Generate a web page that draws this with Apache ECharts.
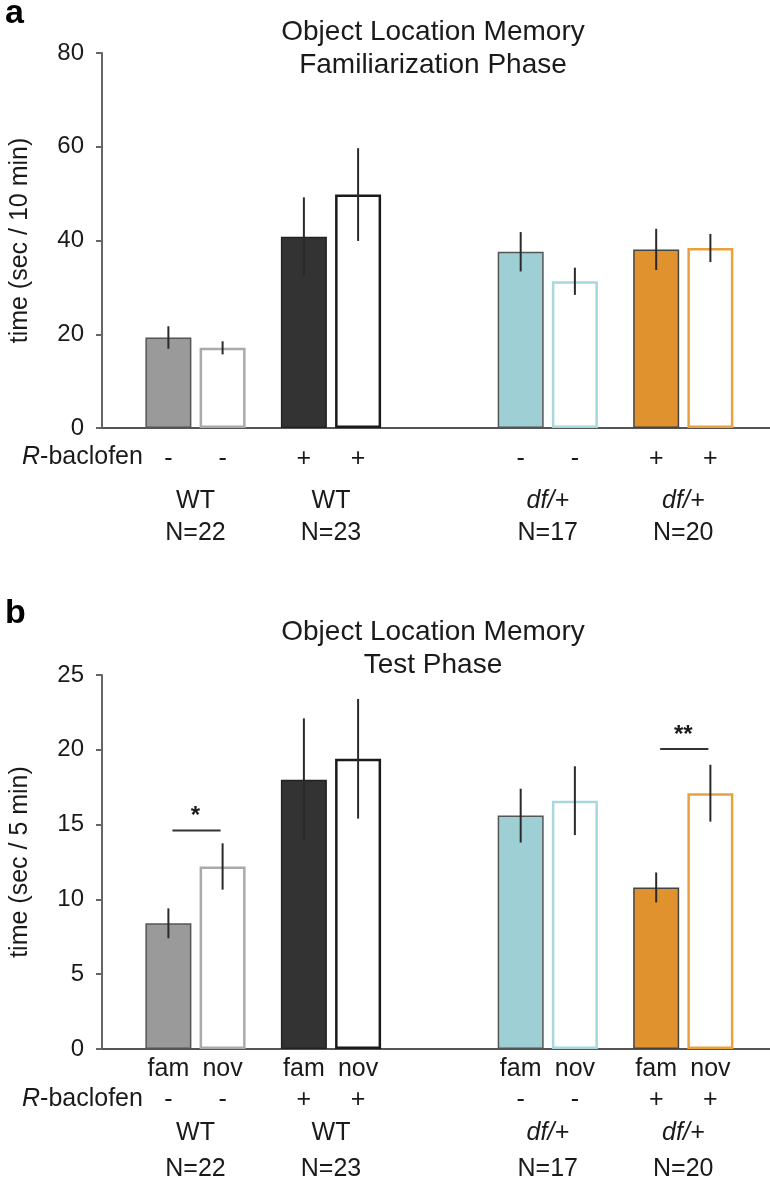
<!DOCTYPE html>
<html>
<head>
<meta charset="utf-8">
<script src="https://cdn.jsdelivr.net/npm/echarts@6/dist/echarts.min.js"></script>
<style>
  html, body { margin: 0; padding: 0; background: #fff; }
  #chart { width: 770px; height: 1185px; }
</style>
</head>
<body>
<div id="chart"></div>
<script>
// bar order: WT- fam, WT- nov, WT+ fam, WT+ nov, df- fam, df- nov, df+ fam, df+ nov
const phaseLabels = ["fam", "nov", "fam", "nov", "fam", "nov", "fam", "nov"];
const treatment = ["-", "-", "+", "+", "-", "-", "+", "+"];
const genotypes = ["WT", "WT", "df/+", "df/+"];
const groupN = ["N=22", "N=23", "N=17", "N=20"];

/** panel a: familiarization phase (sec / 10 min) */
const famMean = [19.3, 17.1, 40.8, 49.8, 37.6, 31.3, 38.1, 38.4];
const famSem = [2.4, 1.4, 8.4, 9.9, 4.2, 2.9, 4.4, 3.0];

/** panel b: test phase (sec / 5 min) */
const testMean = [8.4, 12.2, 18.0, 19.4, 15.6, 16.6, 10.8, 17.1];
const testSem = [1.0, 1.55, 4.1, 4.0, 1.8, 2.3, 1.0, 1.9];

/** significance brackets in panel b */
const testSig = [
  { from: 0, to: 1, y: 14.6, text: "*" },
  { from: 6, to: 7, y: 20.05, text: "**" },
];

/** bar styles */
const fills = ["#9a9a9a", "#ffffff", "#333333", "#ffffff", "#9ecfd4", "#ffffff", "#e0922f", "#ffffff"];
const borders = ["#555555", "#aaaaaa", "#222222", "#1a1a1a", "#555555", "#a8d8dc", "#444444", "#e9a03f"];
const borderWidths = [1.5, 2.5, 1.5, 2.5, 1.5, 2.5, 1.5, 2.5];

/** slot positions: pairs 2 apart, 3 between pairs, 6 between genotypes */
const gaps = [2, 3, 2, 6, 2, 3, 2];
const slots = [0];
gaps.forEach((g) => slots.push(slots[slots.length - 1] + g));
const pairMid = [0, 1, 2, 3].map((p) => (slots[2 * p] + slots[2 * p + 1]) / 2);

const FONT = "'Liberation Sans', Arial, sans-serif";
const TEXT = "#1a1a1a";

const chart = echarts.init(document.getElementById("chart"), null, { renderer: "canvas" });

function barData(means) {
  return means.map((v, i) => ({
    value: [slots[i], v],
    itemStyle: { color: fills[i], borderColor: borders[i], borderWidth: borderWidths[i] },
  }));
}

function errorSeries(idx, means, sems) {
  return {
    type: "custom",
    xAxisIndex: idx,
    yAxisIndex: idx,
    clip: false,
    z: 5,
    data: means.map((m, i) => [slots[i], m - sems[i], m + sems[i]]),
    encode: { x: 0, y: [1, 2] },
    renderItem: (params, api) => {
      const lo = api.coord([api.value(0), api.value(1)]);
      const hi = api.coord([api.value(0), api.value(2)]);
      return {
        type: "line",
        shape: { x1: lo[0], y1: lo[1], x2: hi[0], y2: hi[1] },
        style: { stroke: "#2a2a2a", lineWidth: 2 },
      };
    },
  };
}

/** labels under the axis, rows offset below the baseline */
function labelSeries(idx, rows, withPhase) {
  const items = [];
  slots.forEach((s, i) => {
    if (withPhase) items.push({ x: s, row: 0, text: phaseLabels[i] });
    items.push({ x: s, row: 1, text: treatment[i] });
  });
  pairMid.forEach((m, p) => {
    items.push({ x: m, row: 2, text: genotypes[p], italic: genotypes[p] !== "WT" });
    items.push({ x: m, row: 3, text: groupN[p] });
  });
  return {
    type: "custom",
    xAxisIndex: idx,
    yAxisIndex: idx,
    clip: false,
    silent: true,
    data: items.map((d) => [d.x, 0]),
    renderItem: (params, api) => {
      const d = items[params.dataIndex];
      const pt = api.coord([d.x, 0]);
      return {
        type: "text",
        x: pt[0],
        y: pt[1] + rows[d.row],
        style: {
          text: d.text,
          fill: TEXT,
          font: (d.italic ? "italic " : "") + "25px " + FONT,
          align: "center",
          verticalAlign: "middle",
        },
      };
    },
  };
}

const sigSeries = {
  type: "custom",
  xAxisIndex: 1,
  yAxisIndex: 1,
  clip: false,
  data: testSig.map((s) => [slots[s.from], slots[s.to], s.y]),
  encode: { x: [0, 1], y: 2 },
  renderItem: (params, api) => {
    const a = api.coord([api.value(0), api.value(2)]);
    const b = api.coord([api.value(1), api.value(2)]);
    return {
      type: "group",
      children: [
        {
          type: "line",
          shape: { x1: a[0] + 4, y1: a[1], x2: b[0] - 2, y2: b[1] },
          style: { stroke: "#333", lineWidth: 2 },
        },
        {
          type: "text",
          x: (a[0] + b[0]) / 2,
          y: a[1] - 2,
          style: {
            text: testSig[params.dataIndex].text,
            fill: TEXT,
            font: "bold 24px " + FONT,
            align: "center",
            verticalAlign: "bottom",
          },
        },
      ],
    };
  },
};

const xAxisBase = {
  type: "value",
  min: -2.45,
  max: 22.2,
  axisLine: { show: true, onZero: false, lineStyle: { color: "#555", width: 2 } },
  axisTick: { show: false },
  axisLabel: { show: false },
  splitLine: { show: false },
};

function yAxisOf(idx, max, interval, name) {
  return {
    type: "value",
    gridIndex: idx,
    min: 0,
    max: max,
    interval: interval,
    axisLine: { show: true, onZero: false, lineStyle: { color: "#666", width: 2 } },
    axisTick: { show: true, length: 6, lineStyle: { color: "#666", width: 2 } },
    splitLine: { show: false },
    axisLabel: { color: TEXT, fontSize: 24, fontFamily: FONT, margin: 18 },
    name: name,
    nameLocation: "middle",
    nameGap: 69,
    nameTextStyle: { color: TEXT, fontSize: 25, fontFamily: FONT },
  };
}

const titleStyle = { color: TEXT, fontSize: 28, fontFamily: FONT, fontWeight: "normal", lineHeight: 33 };
const letterStyle = { color: "#000", fontSize: 34, fontFamily: FONT, fontWeight: "bold" };

const option = {
  animation: false,
  backgroundColor: "#fff",
  title: [
    { text: "a", left: 0, top: -8, textStyle: letterStyle },
    { text: "Object Location Memory\nFamiliarization Phase", left: 428, top: 11, textAlign: "center", textStyle: titleStyle },
    { text: "b", left: 0, top: 592, textStyle: letterStyle },
    { text: "Object Location Memory\nTest Phase", left: 428, top: 611, textAlign: "center", textStyle: titleStyle },
  ],
  grid: [
    { left: 102, right: 0, top: 53, height: 375, outerBoundsMode: "none" },
    { left: 102, right: 0, top: 675, height: 374, outerBoundsMode: "none" },
  ],
  xAxis: [
    { ...xAxisBase, gridIndex: 0 },
    { ...xAxisBase, gridIndex: 1 },
  ],
  yAxis: [
    yAxisOf(0, 80, 20, "time (sec / 10 min)"),
    yAxisOf(1, 25, 5, "time (sec / 5 min)"),
  ],
  graphic: [
    {
      type: "text", left: 22, top: 445,
      style: { rich: { i: { fontStyle: "italic", fontSize: 25, fontFamily: FONT, fill: TEXT }, n: { fontSize: 25, fontFamily: FONT, fill: TEXT } }, text: "{i|R}{n|-baclofen}" },
    },
    {
      type: "text", left: 22, top: 1087,
      style: { rich: { i: { fontStyle: "italic", fontSize: 25, fontFamily: FONT, fill: TEXT }, n: { fontSize: 25, fontFamily: FONT, fill: TEXT } }, text: "{i|R}{n|-baclofen}" },
    },
  ],
  series: [
    { type: "bar", xAxisIndex: 0, yAxisIndex: 0, barWidth: 46, data: barData(famMean) },
    errorSeries(0, famMean, famSem),
    labelSeries(0, [0, 31, 73, 105], false),
    { type: "bar", xAxisIndex: 1, yAxisIndex: 1, barWidth: 46, data: barData(testMean) },
    errorSeries(1, testMean, testSem),
    labelSeries(1, [20, 51, 84, 120], true),
    sigSeries,
  ],
};

chart.setOption(option);
</script>
</body>
</html>
